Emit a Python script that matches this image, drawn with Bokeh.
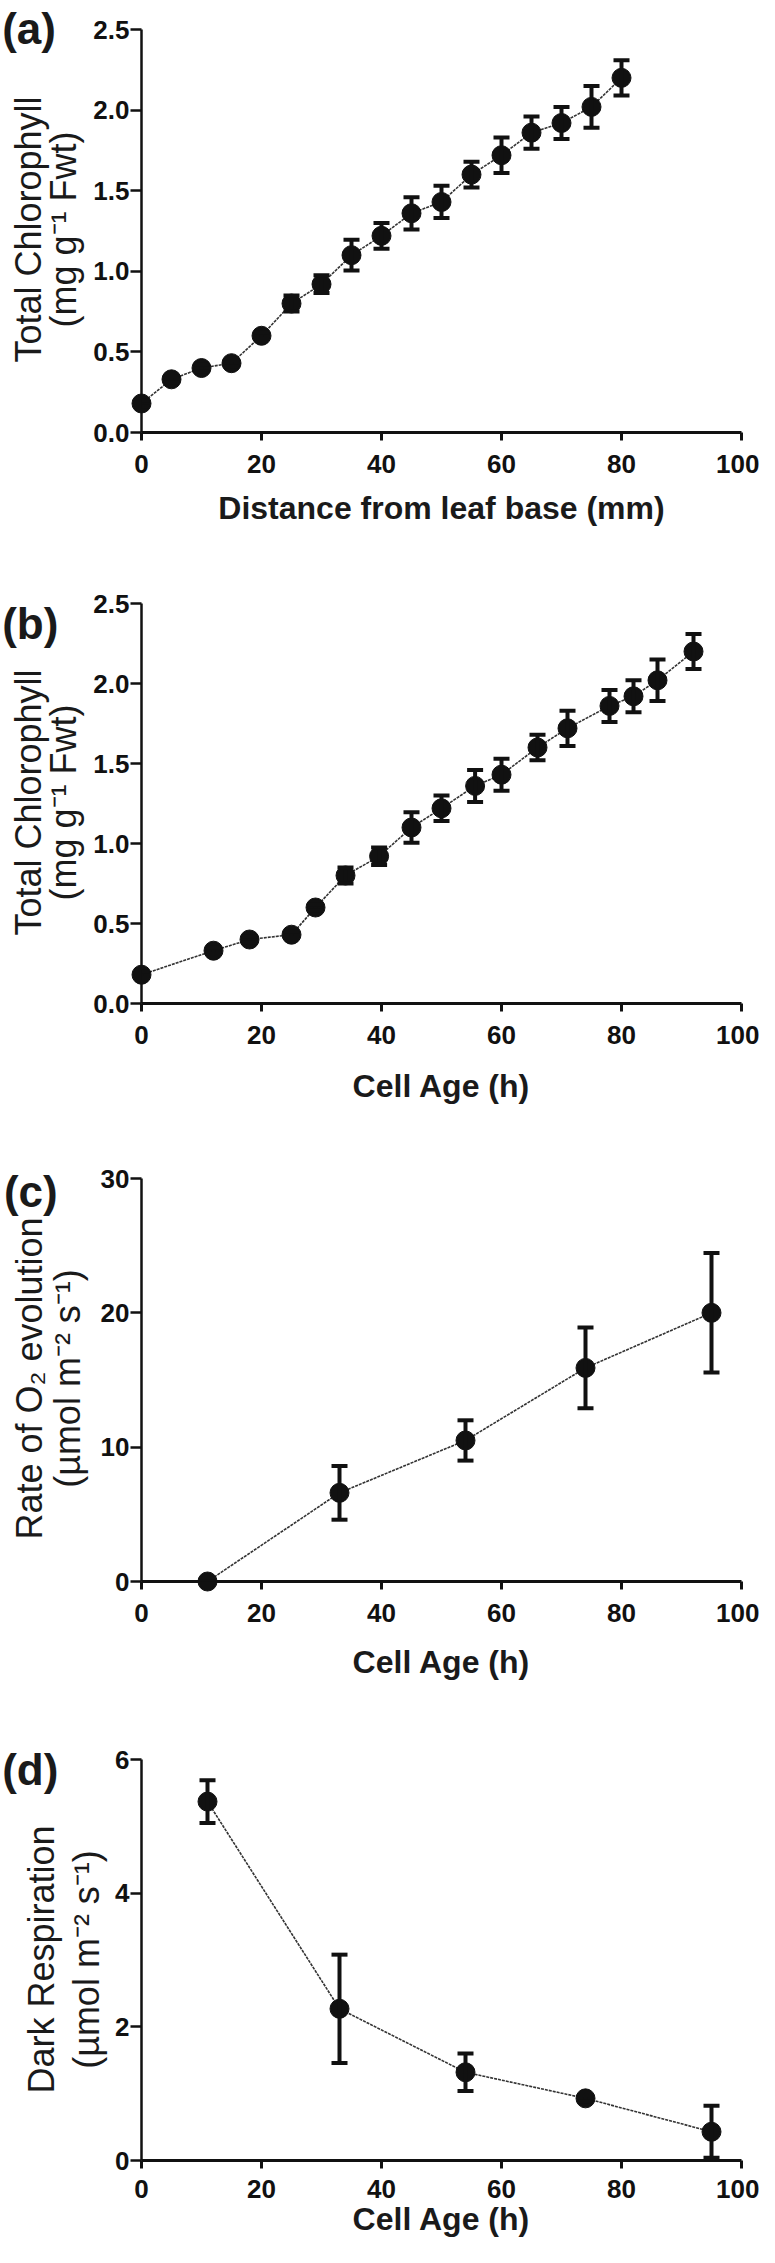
import numpy as np
from bokeh.plotting import figure
from bokeh.models import (Range1d, FixedTicker, PrintfTickFormatter, Whisker,
                          TeeHead, ColumnDataSource)
from bokeh.layouts import column
from bokeh.core.properties import value
from bokeh.embed import file_html
from bokeh.resources import INLINE

# ---------------- data ----------------
dist_mm = [0, 5, 10, 15, 20, 25, 30, 35, 40, 45, 50, 55, 60, 65, 70, 75, 80]
chl_total = [0.18, 0.33, 0.40, 0.43, 0.60, 0.80, 0.92, 1.10, 1.22, 1.36, 1.43,
             1.60, 1.72, 1.86, 1.92, 2.02, 2.20]
chl_err = [0.02, 0.02, 0.02, 0.02, 0.02, 0.05, 0.055, 0.095, 0.08, 0.10, 0.10,
           0.08, 0.11, 0.10, 0.10, 0.13, 0.11]
cell_age_chl = [0, 12, 18, 25, 29, 34, 39.6, 45, 50, 55.6, 60, 66, 71, 78, 82, 86, 92]

o2_age = [11, 33, 54, 74, 95]
o2_rate = [0.0, 6.6, 10.5, 15.9, 20.0]
o2_err = [0.0, 2.0, 1.5, 3.0, 4.45]

resp_age = [11, 33, 54, 74, 95]
resp_rate = [5.37, 2.27, 1.32, 0.93, 0.43]
resp_err = [0.32, 0.81, 0.28, 0.05, 0.39]

x_ticks = [0, 20, 40, 60, 80, 100]
chl_ticks = [0.0, 0.5, 1.0, 1.5, 2.0, 2.5]
o2_ticks = [0, 10, 20, 30]
resp_ticks = [0, 2, 4, 6]

# ---------------- layout / style ----------------
W = 759
M = 8          # page margin
FONT = "Liberation Sans"
INK = "#111111"


def make_panel(fig_top, fig_h, x0s, x100s, y0s, ytops, ymax, yticks, fmt,
               xs, ys, es, xlabel, ylines, ycenter, letter, letter_base,
               label_standoff=14, title_standoff=16):
    kx = 100.0 / (x100s - x0s)
    ky = ymax / (y0s - ytops)
    left = x0s - M
    right = W - (x100s - M)
    top = ytops - fig_top
    bottom = fig_top + fig_h - y0s
    p = figure(width=W, height=fig_h,
               x_range=Range1d(0, 100), y_range=Range1d(0, ymax),
               output_backend="svg", toolbar_location=None,
               min_border_left=left, min_border_right=right,
               min_border_top=top, min_border_bottom=bottom)
    p.outline_line_color = None
    p.xgrid.visible = False
    p.ygrid.visible = False
    p.background_fill_color = "white"
    p.border_fill_color = "white"

    xa = p.xaxis[0]
    xa.ticker = FixedTicker(ticks=x_ticks)
    xa.axis_line_width = 3
    xa.axis_line_color = INK
    xa.major_tick_line_width = 3
    xa.major_tick_line_color = INK
    xa.major_tick_out = 8
    xa.major_tick_in = 0
    xa.minor_tick_out = 0
    xa.minor_tick_in = 0
    xa.major_label_text_font = FONT
    xa.major_label_text_font_style = "bold"
    xa.major_label_text_font_size = "26px"
    xa.major_label_text_color = INK
    xa.major_label_standoff = label_standoff
    xa.axis_label = xlabel
    xa.axis_label_text_font = FONT
    xa.axis_label_text_font_style = "bold"
    xa.axis_label_text_font_size = "32px"
    xa.axis_label_text_color = "#1a1a1a"
    xa.axis_label_standoff = title_standoff

    ya = p.yaxis[0]
    ya.ticker = FixedTicker(ticks=yticks)
    ya.formatter = PrintfTickFormatter(format=fmt)
    ya.axis_line_width = 2.5
    ya.axis_line_color = INK
    ya.major_tick_line_width = 2.5
    ya.major_tick_line_color = INK
    ya.major_tick_out = 11
    ya.major_tick_in = 0
    ya.minor_tick_out = 0
    ya.minor_tick_in = 0
    ya.major_label_text_font = FONT
    ya.major_label_text_font_style = "bold"
    ya.major_label_text_font_size = "26px"
    ya.major_label_text_color = INK
    ya.major_label_standoff = 1

    src = ColumnDataSource(dict(x=xs, y=ys,
                                upper=[a + b for a, b in zip(ys, es)],
                                lower=[a - b for a, b in zip(ys, es)]))
    p.line("x", "y", source=src, line_color="#333333", line_width=1.6,
           line_dash="3 1", level="overlay")
    w = Whisker(base="x", upper="upper", lower="lower", source=src,
                line_color=INK, line_width=4, level="overlay",
                upper_head=TeeHead(size=16, line_width=4, line_color=INK),
                lower_head=TeeHead(size=16, line_width=4, line_color=INK))
    p.add_layout(w)
    p.scatter("x", "y", source=src, size=19, color=INK, level="overlay")

    def dx(sx):
        return (sx - x0s) * kx

    def dy(sy):
        return (y0s - sy) * ky

    for text, bx in ylines:
        p.text(x=[dx(bx)], y=[dy(ycenter)], text=[text], angle=np.pi / 2,
               text_align="center", text_baseline="alphabetic",
               text_font=value(FONT), text_font_size=value("36px"),
               text_color="#1a1a1a", level="overlay")
    p.text(x=[dx(M + 1)], y=[dy(letter_base)], text=[letter],
           text_align="left", text_baseline="alphabetic",
           text_font=value(FONT), text_font_style="bold",
           text_font_size=value("44px"), text_color="#1a1a1a",
           level="overlay")
    return p


pa = make_panel(8, 552, 149, 752, 440, 37, 2.5, chl_ticks, "%.1f",
                dist_mm, chl_total, chl_err, "Distance from leaf base (mm)",
                [("Total Chlorophyll", 35), ("(mg g\u207b\u00b9 Fwt)", 71)], 237,
                "(a)", 36, title_standoff=14)
pb = make_panel(560, 570, 149, 752, 1011, 611, 2.5, chl_ticks, "%.1f",
                cell_age_chl, chl_total, chl_err, "Cell Age (h)",
                [("Total Chlorophyll", 35), ("(mg g\u207b\u00b9 Fwt)", 71)], 810,
                "(b)", 631, title_standoff=21)
pc = make_panel(1130, 570, 147, 749, 1589, 1186, 30, o2_ticks, "%d",
                o2_age, o2_rate, o2_err, "Cell Age (h)",
                [("Rate of O\u2082 evolution", 35),
                 ("(\u00b5mol m\u207b\u00b2 s\u207b\u00b9)", 73)], 1386,
                "(c)", 1199, title_standoff=19)
pd_ = make_panel(1700, 555, 149, 752, 2168, 1767, 6, resp_ticks, "%d",
                 resp_age, resp_rate, resp_err, "Cell Age (h)",
                 [("Dark Respiration", 49),
                  ("(\u00b5mol m\u207b\u00b2 s\u207b\u00b9)", 94)], 1967,
                 "(d)", 1777, label_standoff=11, title_standoff=0)

layout = column(pa, pb, pc, pd_, spacing=0)
open("out.html", "w").write(file_html(layout, INLINE))
